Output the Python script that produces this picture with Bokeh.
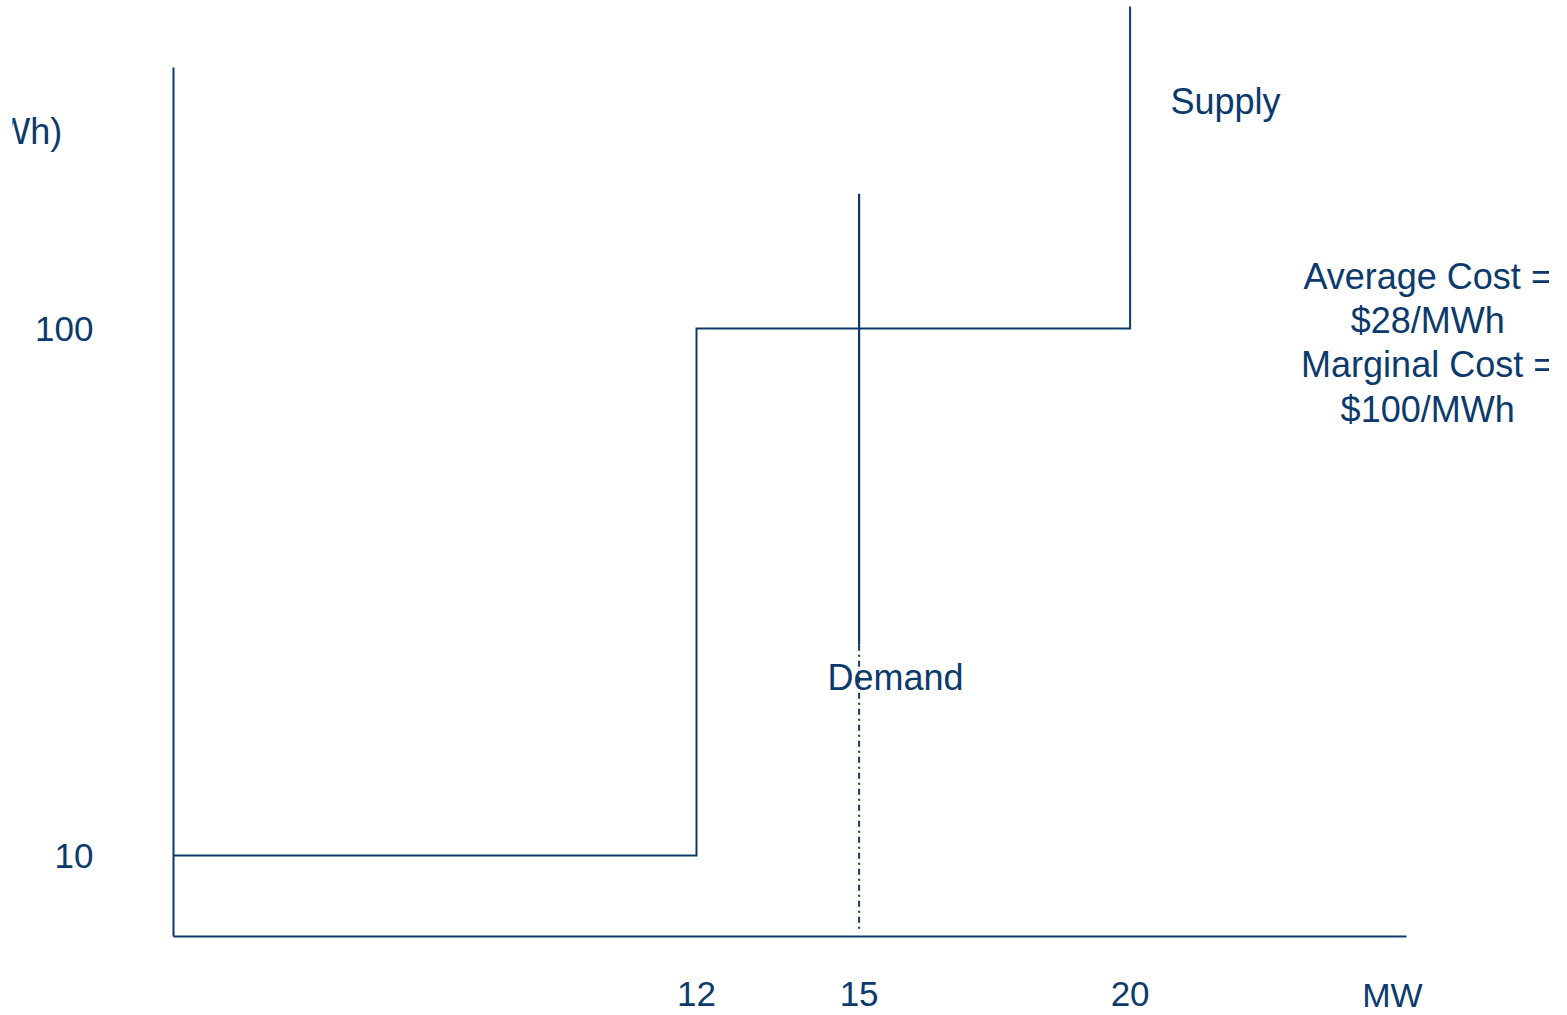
from bokeh.plotting import figure
from bokeh.models import Range1d, FixedTicker
from bokeh.core.properties import value
from bokeh.embed import file_html
from bokeh.resources import INLINE

# ---- data (MW on x, $/MWh on y) ----
supply_mw = [2.35, 12, 12, 20, 20]          # cheap block up to 12 MW, peaker up to 20 MW
supply_price = [10, 10, 100, 100, 155]      # $10 block, $100 block, then capacity wall
demand_mw = 15
demand_solid_price = [123, 46]
demand_dashed_price = [46, -3.2]
x_ticks = [12, 15, 20]
y_ticks = [10, 100]
average_cost = 28
marginal_cost = 100

# axis extents in data units
mw_axis = (2.35, 25.1)
price_axis = (-3.8, 144.6)

NAVY = "#0c3a6c"
FONT = value("Liberation Sans")

p = figure(width=1549, height=1015, output_backend="svg", toolbar_location=None,
           x_range=Range1d(-0.6199, 27.738), y_range=Range1d(-17.324, 156.015),
           min_border=0, min_border_left=12)
p.outline_line_color = None
p.grid.visible = False
p.background_fill_color = "white"
p.border_fill_color = "white"

# axes pinned inside the frame
xa = p.xaxis[0]
xa.fixed_location = price_axis[0]
xa.bounds = mw_axis
xa.ticker = FixedTicker(ticks=x_ticks)
ya = p.yaxis[0]
ya.fixed_location = mw_axis[0]
ya.bounds = price_axis
ya.ticker = FixedTicker(ticks=y_ticks)
for ax in (xa, ya):
    ax.axis_line_color = NAVY
    ax.axis_line_width = 2
    ax.major_tick_line_color = None
    ax.minor_tick_line_color = None
    ax.major_label_text_color = NAVY
    ax.major_label_text_font = "Liberation Sans"
    ax.major_label_text_font_size = "35px"
xa.major_label_standoff = 40
ya.major_label_standoff = 74

# supply step curve
p.line(supply_mw, supply_price, line_color=NAVY, line_width=2, line_join="miter")

# demand: solid upper part, dash-dot down to the axis
p.line([demand_mw, demand_mw], demand_solid_price, line_color=NAVY, line_width=2.2)
p.line([demand_mw, demand_mw], demand_dashed_price, line_color=NAVY, line_width=2,
       line_dash="6 4 2 4")

text_style = dict(text_font=FONT, text_font_size="36px", text_color=NAVY,
                  text_baseline="middle")

p.text(x=[21.76], y=[138.8], text=["Supply"], text_align="center", **text_style)
p.text(x=[15.67], y=[40.4], text=["Demand"], text_align="center", **text_style)
p.text(x=[24.84], y=[-13.8], text=["MW"], text_align="center", text_font=FONT,
       text_font_size="34px", text_color=NAVY, text_baseline="middle")
p.text(x=[0.30], y=[133.6], text=["($/MWh)"], text_align="right", **text_style)

note_lines = ["Average Cost =", f"${average_cost}/MWh",
              "Marginal Cost =", f"${marginal_cost}/MWh"]
note_top = 108.9
note_step = 7.55
p.text(x=[25.49] * len(note_lines),
       y=[note_top - i * note_step for i in range(len(note_lines))],
       text=note_lines, text_align="center", **text_style)

open("out.html", "w").write(file_html(p, INLINE))
